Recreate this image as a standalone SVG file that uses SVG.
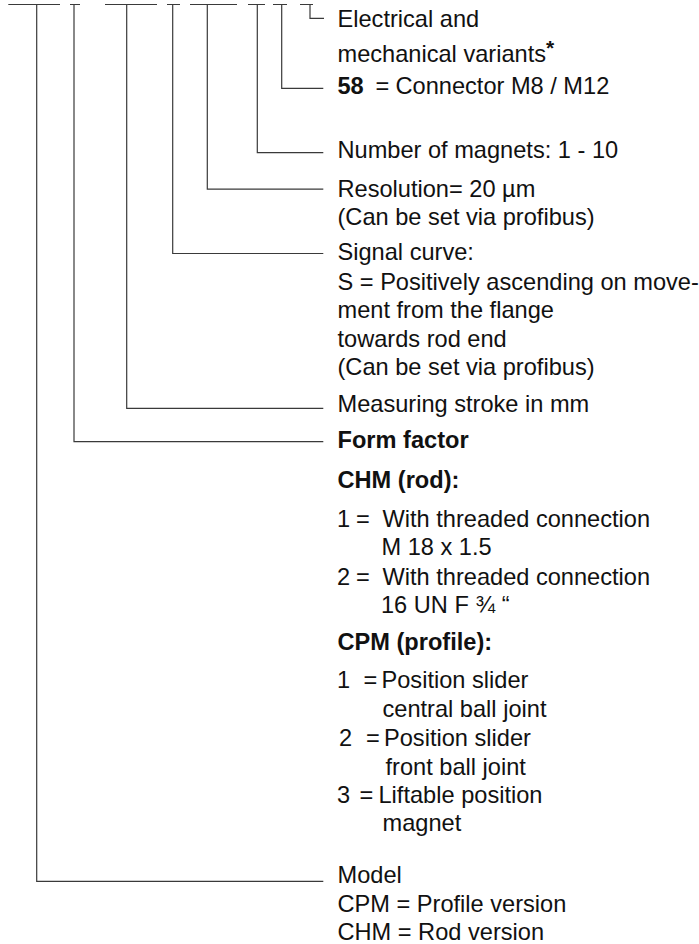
<svg xmlns="http://www.w3.org/2000/svg" width="699" height="944" viewBox="0 0 699 944">
  <style>
    .t { font-family: "Liberation Sans", Arial, sans-serif; font-size: 23.6px; fill: #111; }
    .b { font-weight: bold; }
    .ln { fill: none; stroke: #3a3a3a; stroke-width: 1.2; }
  </style>
  <rect width="699" height="944" fill="#fff"/>

  <!-- leader lines: short top bar, vertical drop, horizontal run to the label -->
  <g id="connectors">
    <path class="ln" d="M8.3 4.5H60M36.7 4.5V881.3H323.3"/>
    <path class="ln" d="M70 4.5H80M74 4.5V441.7H323.3"/>
    <path class="ln" d="M105 4.5H157M126.7 4.5V408.3H323.3"/>
    <path class="ln" d="M167 4.5H180M172.7 4.5V253.5H323.3"/>
    <path class="ln" d="M190 4.5H237M207.3 4.5V189.2H323.3"/>
    <path class="ln" d="M248 4.5H265M257.3 4.5V152.7H323.3"/>
    <path class="ln" d="M273 4.5H287M281.7 4.5V88.3H323.3"/>
    <path class="ln" d="M300 4.5H313M310 4.5V18.3H324"/>
  </g>

  <g id="variants">
    <text class="t" x="337.5" y="27">Electrical and</text>
    <text class="t" x="337.5" y="62">mechanical variants<tspan class="b" dy="-7" font-size="21">*</tspan></text>
  </g>

  <g id="connector-type">
    <text class="t b" x="337.5" y="93.5">58</text>
    <text class="t" x="375.5" y="93.5">=</text>
    <text class="t" x="395.5" y="93.5">Connector M8 / M12</text>
  </g>

  <g id="magnets">
    <text class="t" x="337.5" y="158">Number of magnets: 1 - 10</text>
  </g>

  <g id="resolution">
    <text class="t" x="337.5" y="196.5">Resolution= 20 µm</text>
    <text class="t" x="337.5" y="224.5">(Can be set via profibus)</text>
  </g>

  <g id="signal-curve">
    <text class="t" x="337.5" y="260">Signal curve:</text>
    <text class="t" x="337.5" y="290">S = Positively ascending on move-</text>
    <text class="t" x="337.5" y="317.5">ment from the flange</text>
    <text class="t" x="337.5" y="346.5">towards rod end</text>
    <text class="t" x="337.5" y="375">(Can be set via profibus)</text>
  </g>

  <g id="stroke">
    <text class="t" x="337.5" y="412">Measuring stroke in mm</text>
  </g>

  <g id="form-factor">
    <text class="t b" x="337.5" y="448.3">Form factor</text>
    <text class="t b" x="337.5" y="488.3">CHM (rod):</text>
    <text class="t" x="337" y="526.7">1</text>
    <text class="t" x="356" y="526.7">=</text>
    <text class="t" x="382.5" y="526.7">With threaded connection</text>
    <text class="t" x="381.5" y="555">M 18 x 1.5</text>
    <text class="t" x="337" y="585">2</text>
    <text class="t" x="356" y="585">=</text>
    <text class="t" x="382.5" y="585">With threaded connection</text>
    <text class="t" x="381" y="613.3">16 UN F ¾ “</text>
    <text class="t b" x="337.5" y="650">CPM (profile):</text>
    <text class="t" x="337" y="688.3">1</text>
    <text class="t" x="363.5" y="688.3">=</text>
    <text class="t" x="381.5" y="688.3">Position slider</text>
    <text class="t" x="382.5" y="716.7">central ball joint</text>
    <text class="t" x="339" y="746">2</text>
    <text class="t" x="366" y="746">=</text>
    <text class="t" x="384" y="746">Position slider</text>
    <text class="t" x="385.5" y="775">front ball joint</text>
    <text class="t" x="337" y="803.3">3</text>
    <text class="t" x="359.5" y="803.3">=</text>
    <text class="t" x="378.5" y="803.3">Liftable position</text>
    <text class="t" x="382.5" y="831">magnet</text>
  </g>

  <g id="model">
    <text class="t" x="337.5" y="883.3">Model</text>
    <text class="t" x="337.5" y="911.7">CPM = Profile version</text>
    <text class="t" x="337.5" y="940">CHM = Rod version</text>
  </g>
</svg>
